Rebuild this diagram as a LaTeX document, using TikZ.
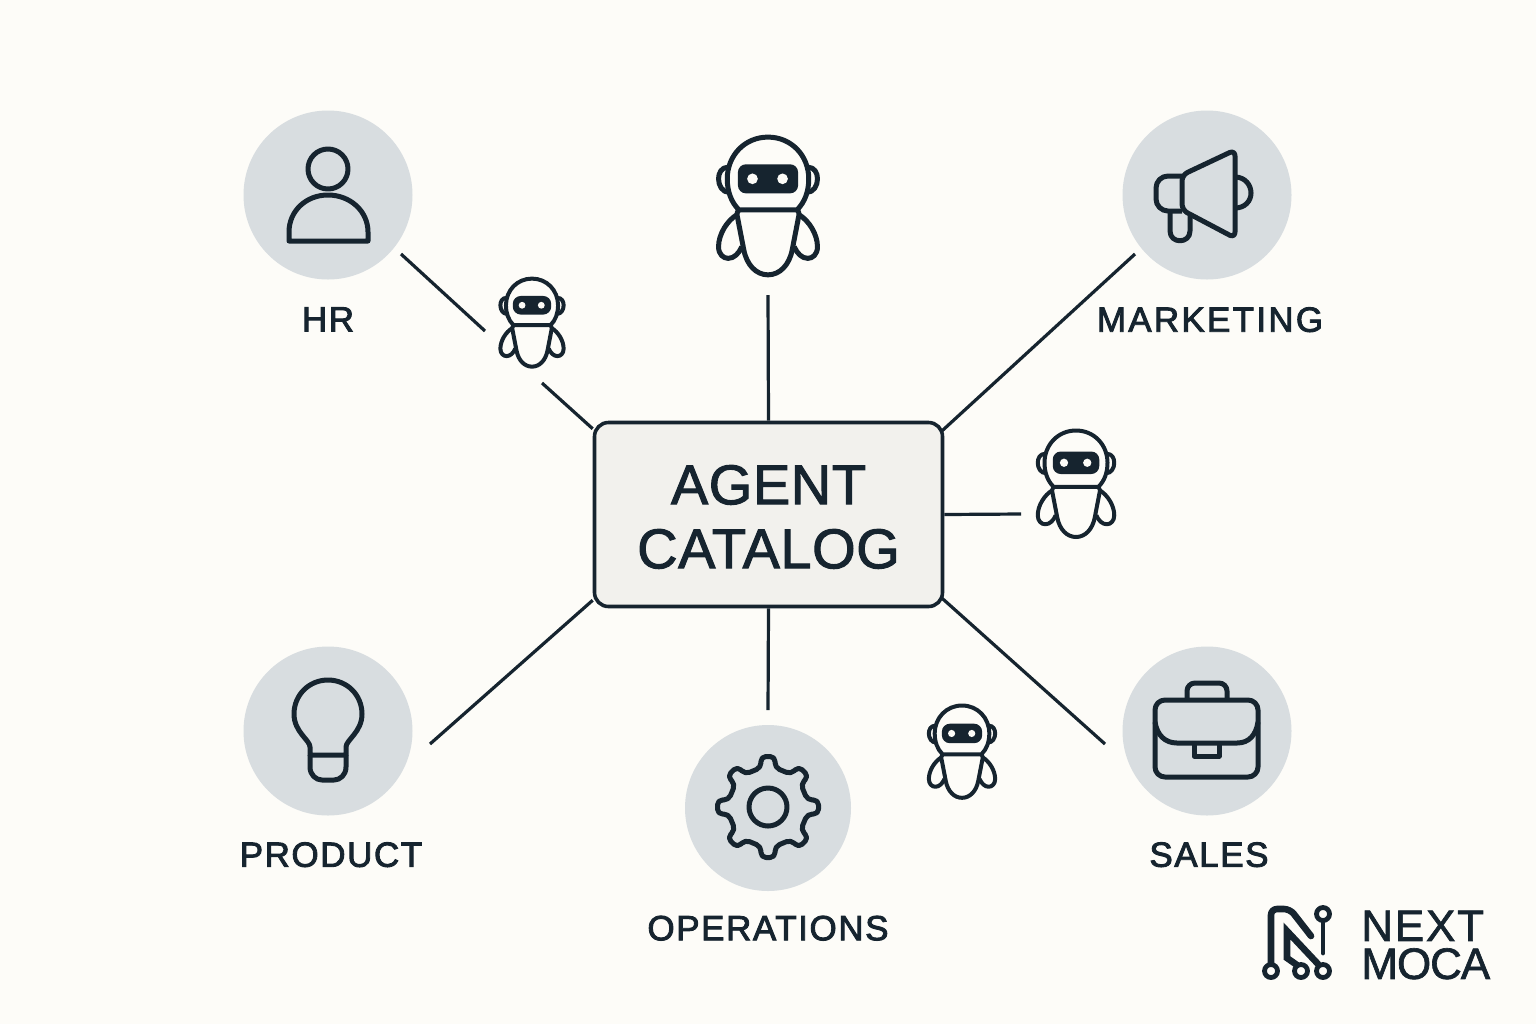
\documentclass[tikz,border=0pt]{standalone}
\usepackage{fontspec}
\setmainfont{Liberation Sans}
\newfontfamily\tagfont[LetterSpace=4.5,FakeBold=2.5]{Liberation Sans}
\newfontfamily\catfont[LetterSpace=1,FakeBold=1.8]{Liberation Sans}
\newfontfamily\logofont[LetterSpace=4,FakeBold=1.5]{Liberation Sans}
\usetikzlibrary{positioning,calc}
\definecolor{paper}{HTML}{FDFCF8}
\definecolor{ink}{HTML}{16242F}
\definecolor{disc}{HTML}{D8DDE0}
\definecolor{panel}{HTML}{F2F1ED}
\tikzstyle{hub} = [circle, fill=disc, minimum size=84.5pt, inner sep=0pt]
\tikzstyle{block} = [rectangle, draw=ink, fill=panel, line width=1.8pt, rounded corners=7pt,
    minimum width=174pt, minimum height=92pt, align=center, text=ink, inner sep=0pt,
    font=\catfont\fontsize{28}{32}\selectfont]
\tikzstyle{tag} = [text=ink, font=\tagfont\fontsize{17.5}{20}\selectfont, inner sep=0pt]
\tikzstyle{line} = [draw=ink, line width=1.6pt]
\tikzstyle{icon} = [draw=ink, line width=2.5pt, line join=round]
\tikzstyle{smallbot} = [icon/.append style={line width=2pt}]
\tikzset{
  robot/.pic={
    \draw[icon] (-30,5) .. controls (-38,-3) and (-42,-14) .. (-42,-27)
      .. controls (-42,-51) and (-24,-70) .. (0,-70)
      .. controls (24,-70) and (42,-51) .. (42,-27)
      .. controls (42,-14) and (38,-3) .. (30,5) -- cycle;
    \fill[ink, rounded corners=4pt] (-31,-42) rectangle (31,-12);
    \fill[paper] (-16,-27) circle[radius=5.5] (15,-27) circle[radius=5.5];
    \draw[icon] (-30,5) .. controls (-33,8) and (-32,12) .. (-31,15) -- (-25,46)
      .. controls (-22,62) and (-12,72) .. (0,72)
      .. controls (12,72) and (22,62) .. (25,46) -- (31,15)
      .. controls (32,12) and (33,8) .. (30,5);
    \foreach \s in {1,-1} {
      \begin{scope}[xscale=\s]
        \draw[icon] (41,-39) .. controls (48,-39) and (51,-33) .. (51,-27)
          .. controls (51,-20) and (47,-13) .. (40,-13);
        \draw[icon] (32,10) .. controls (42,16) and (51,30) .. (51,43)
          .. controls (51,51) and (46,55) .. (41,55)
          .. controls (35,55) and (30,50) .. (27,43);
      \end{scope}
    }
  }
}
\begin{document}
\begin{tikzpicture}[x=0.5pt,y=-0.5pt]
    \fill[paper] (0,0) rectangle (1536,1024);
    \useasboundingbox (0,0) rectangle (1536,1024);
    % Place nodes
    \node [block] (CAT) at (768.5,514.5) {\rule{0pt}{22pt}AGENT\\CATALOG};
    \node [hub] (HR) at (328,195) {};
    \node [hub] (MKT) at (1207,195) {};
    \node [hub] (PROD) at (328,731) {};
    \node [hub] (SALES) at (1207,731) {};
    \node [hub, minimum size=83pt] (OPS) at (768,808) {};
    \node [tag] (HRtag) [below=13.5pt of HR] {HR};
    \node [tag] (MKTtag) [below=13.5pt of MKT, xshift=1.5pt] {\addfontfeature{LetterSpace=6.5}MARKETING};
    \node [tag] (PRODtag) [below=13pt of PROD, xshift=1.5pt] {PRODUCT};
    \node [tag] (SALEStag) [below=13pt of SALES, xshift=1pt] {SALES};
    \node [tag] (OPStag) [below=12pt of OPS] {OPERATIONS};
    \node [text=ink, align=left, anchor=west, inner sep=0pt, font=\logofont\fontsize{22}{19}\selectfont] (LOGO) at (1361,945)
      {NEXT\\\addfontfeature{LetterSpace=-2.5}MOCA};
    % Free ends of the edges
    \coordinate (HRa) at (401,254);
    \coordinate (HRb) at (485,331);
    \coordinate (HRc) at (542,383);
    \coordinate (TOPa) at (768,295);
    \coordinate (MKTa) at (1135,254);
    \coordinate (RIGHTa) at (1021,514);
    \coordinate (SALESa) at (1105,744);
    \coordinate (OPSa) at (768,710);
    \coordinate (PRODa) at (430,744);
    % Draw edges
    \path [line] (HRa) -- (HRb);
    \path [line] (HRc) -- (CAT.154);
    \path [line] (TOPa) -- (CAT.north);
    \path [line, shorten >=-2pt] (MKTa) -- (CAT.26);
    \path [line] (CAT.east) -- (RIGHTa);
    \path [line, shorten <=-2pt] (CAT.334) -- (SALESa);
    \path [line] (CAT.south) -- (OPSa);
    \path [line] (CAT.206) -- (PRODa);
    % Robots
    \pic[scale=0.97] at (768,205) {robot};
    \pic[smallbot, scale=0.62] at (532,322) {robot};
    \pic[smallbot, scale=0.75] at (1076,483) {robot};
    \pic[smallbot, scale=0.65] at (962,751) {robot};
    % Person
    \draw[icon] (328,169) circle[radius=20];
    \draw[icon] (289,241) -- (289,232) .. controls (289,211) and (306,195) .. (328,195)
      .. controls (350,195) and (368,211) .. (368,232) -- (368,241) -- cycle;
    % Megaphone
    \draw[icon, rounded corners=3pt] (1182,175) -- (1235,150) -- (1235,238) -- (1182,210) -- cycle;
    \draw[icon, rounded corners=6pt] (1182,176) -- (1156,176) -- (1156,211) -- (1182,211);
    \draw[icon] (1170,212) -- (1170,231) .. controls (1170,244) and (1190,244) .. (1190,231) -- (1190,216);
    \draw[icon] (1235,177) .. controls (1245,177) and (1251,185) .. (1251,193)
      .. controls (1251,201) and (1245,208) .. (1235,208);
    % Briefcase
    \draw[icon, rounded corners=5pt] (1155,700) rectangle (1258,777);
    \draw[icon, rounded corners=4pt] (1187,699) -- (1187,683) -- (1227,683) -- (1227,699);
    \draw[icon] (1155,722) .. controls (1157,735) and (1165,743) .. (1177,743) -- (1237,743)
      .. controls (1249,743) and (1256,735) .. (1258,722);
    \draw[icon] (1194,743) -- (1194,756) -- (1219,756) -- (1219,743);
    % Gear
    \begin{scope}[shift={(768,807)}]
      \draw[icon, rounded corners=2.5pt] (-10:40) -- (-8:51) -- (8:51) -- (10:40)
        \foreach \a in {45,90,...,315} { -- (\a-10:40) -- (\a-8:51) -- (\a+8:51) -- (\a+10:40) } -- cycle;
      \draw[icon] (0,0) circle[radius=19];
    \end{scope}
    % Bulb
    \draw[icon] (310,755) -- (310,747) .. controls (310,740) and (294,732) .. (294,714)
      .. controls (294,695) and (309,680) .. (328,680)
      .. controls (347,680) and (362,695) .. (362,714)
      .. controls (362,732) and (346,740) .. (346,747) -- (346,755) -- cycle;
    \draw[icon] (310,755) -- (310,767) .. controls (310,775) and (316,780) .. (322,780)
      -- (334,780) .. controls (340,780) and (346,775) .. (346,767) -- (346,755);
    % Logo mark
    \begin{scope}[line cap=round]
      \draw[icon, line width=3.3pt, rounded corners=3pt] (1271,963) -- (1271,909) -- (1290,909) -- (1311,936);
      \draw[icon, line width=3.3pt, line join=miter] (1318,964) -- (1287,931) -- (1287,958) -- (1297,965);
      \draw[icon, line width=2.4pt] (1323,921) -- (1323,953);
      \draw[icon, line width=2.4pt] (1271,971) circle[radius=6.5] (1301,971) circle[radius=6.5]
        (1323,971) circle[radius=6.5] (1323,914) circle[radius=6.5];
    \end{scope}
\end{tikzpicture}
\end{document}
